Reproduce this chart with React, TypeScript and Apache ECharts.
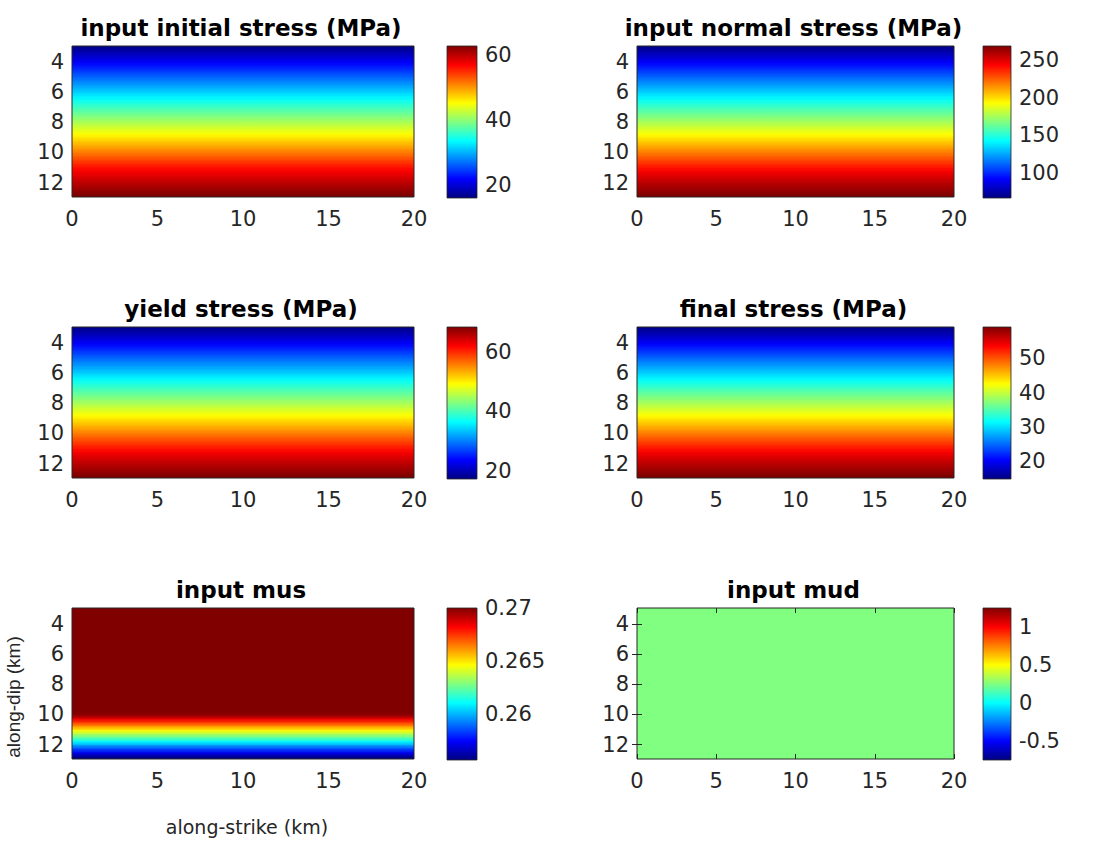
import React, { useEffect, useRef } from 'react';
import * as echarts from 'echarts';

// along-dip row centres (km)
const depthKm = [
  3.075, 3.325, 3.575, 3.825, 4.075, 4.325, 4.575, 4.825, 5.075, 5.325,
  5.575, 5.825, 6.075, 6.325, 6.575, 6.825, 7.075, 7.325, 7.575, 7.825,
  8.075, 8.325, 8.575, 8.825, 9.075, 9.325, 9.575, 9.825, 10.075, 10.325,
  10.575, 10.825, 11.075, 11.325, 11.575, 11.825, 12.075, 12.325, 12.575, 12.825,
];
const strikeRangeKm = [0, 20];
const depthAxisRange = [2.95, 12.95];
const xTicks = [0, 5, 10, 15, 20];
const yTicks = [4, 6, 8, 10, 12];

const initialStress = [
  16.6, 17.9, 19.1, 20.4, 21.6, 22.9, 24.1, 25.4, 26.6, 27.9,
  29.1, 30.4, 31.6, 32.9, 34.1, 35.4, 36.6, 37.9, 39.1, 40.4,
  41.6, 42.9, 44.1, 45.4, 46.6, 47.9, 49.1, 50.4, 51.6, 52.9,
  54.1, 55.4, 56.5, 57.5, 58.4, 59.3, 60.2, 61.0, 61.9, 62.8,
];
const normalStress = [
  69.0, 74.2, 79.4, 85.1, 90.7, 95.9, 101.6, 106.8, 112.4, 117.6,
  122.8, 128.5, 133.7, 139.3, 144.5, 149.7, 155.4, 160.6, 165.8, 171.4,
  176.6, 182.3, 187.5, 192.7, 198.3, 203.9, 209.2, 214.8, 220.0, 225.6,
  230.8, 236.1, 241.3, 246.0, 250.4, 254.3, 258.2, 261.6, 265.1, 269.0,
];
const yieldStress = [
  18.1, 19.4, 20.7, 22.1, 23.5, 24.8, 26.3, 27.6, 29.0, 30.3,
  31.6, 33.0, 34.3, 35.8, 37.1, 38.4, 39.8, 41.1, 42.4, 43.8,
  45.1, 46.6, 47.9, 49.2, 50.6, 52.0, 53.3, 54.8, 56.1, 57.5,
  58.8, 60.1, 61.4, 62.6, 63.7, 64.7, 65.7, 66.5, 67.4, 68.4,
];
const finalStress = [
  15.4, 16.5, 17.6, 18.9, 20.1, 21.3, 22.5, 23.6, 24.9, 26.0,
  27.2, 28.4, 29.5, 30.8, 31.9, 33.1, 34.3, 35.5, 36.6, 37.8,
  39.0, 40.2, 41.3, 42.5, 43.7, 44.9, 46.1, 47.3, 48.5, 49.7,
  50.8, 52.0, 53.1, 54.2, 55.1, 56.0, 56.8, 57.6, 58.4, 59.2,
];
const inputMus = [
  0.27, 0.27, 0.27, 0.27, 0.27, 0.27, 0.27, 0.27, 0.27, 0.27,
  0.27, 0.27, 0.27, 0.27, 0.27, 0.27, 0.27, 0.27, 0.27, 0.27,
  0.27, 0.27, 0.27, 0.27, 0.27, 0.27, 0.27, 0.27, 0.2698, 0.2685,
  0.2673, 0.2660, 0.2647, 0.2634, 0.2622, 0.2609, 0.2596, 0.2583, 0.2571, 0.2558,
];
const inputMud = [
  0.25, 0.25, 0.25, 0.25, 0.25, 0.25, 0.25, 0.25, 0.25, 0.25,
  0.25, 0.25, 0.25, 0.25, 0.25, 0.25, 0.25, 0.25, 0.25, 0.25,
  0.25, 0.25, 0.25, 0.25, 0.25, 0.25, 0.25, 0.25, 0.25, 0.25,
  0.25, 0.25, 0.25, 0.25, 0.25, 0.25, 0.25, 0.25, 0.25, 0.25,
];

const titles = [
  'input initial stress (MPa)',
  'input normal stress (MPa)',
  'yield stress (MPa)',
  'final stress (MPa)',
  'input mus',
  'input mud',
];
const panelValues = [initialStress, normalStress, yieldStress, finalStress, inputMus, inputMud];
const colorRanges = [
  [16, 62.8],
  [66, 269],
  [17.3, 68.4],
  [14.7, 59.2],
  [0.2556, 0.27],
  [-0.75, 1.25],
];
const colorTicks = [
  [20, 40, 60],
  [100, 150, 200, 250],
  [20, 40, 60],
  [20, 30, 40, 50],
  [0.26, 0.265, 0.27],
  [-0.5, 0, 0.5, 1],
];

const jet = ['#000080', '#0000ff', '#0080ff', '#00ffff', '#80ff80', '#ffff00', '#ff8000', '#ff0000', '#800000'];

// layout (pixels)
const colLeft = [72, 637];
const colWidth = [342, 317];
const rowTop = [46, 327, 608];
const plotHeight = 151;
const cbLeft = [447, 983];
const cbWidth = [30, 28];

const TICK_FONT = 'DejaVu Sans';
const TXT = '#262626';

export default function App() {
  const ref = useRef<HTMLDivElement>(null);
  useEffect(() => {
    if (!ref.current) return;
    const chart = echarts.init(ref.current, undefined, { renderer: 'svg' });
    const half = (depthKm[1] - depthKm[0]) / 2;

    const grids: any[] = [];
    const xAxes: any[] = [];
    const yAxes: any[] = [];
    const series: any[] = [];
    const visualMaps: any[] = [];
    const graphics: any[] = [];

    const boxes = titles.map((_, i) => {
      const c = i % 2;
      const r = Math.floor(i / 2);
      return { left: colLeft[c], top: rowTop[r], width: colWidth[c], height: plotHeight, c, r };
    });

    boxes.forEach((b) => {
      grids.push({
        left: b.left, top: b.top, width: b.width, height: b.height,
        show: true, borderColor: TXT, borderWidth: 1, backgroundColor: 'transparent', z: 5,
      });
    });
    boxes.forEach((b) => {
      grids.push({
        left: cbLeft[b.c], top: b.top, width: cbWidth[b.c], height: b.height + 1,
        show: true, borderColor: TXT, borderWidth: 0.8, backgroundColor: 'transparent', z: 5,
      });
    });

    const isMud = (i: number) => i === 5;

    boxes.forEach((b, i) => {
      xAxes.push({
        gridIndex: i, type: 'value', min: strikeRangeKm[0], max: strikeRangeKm[1], interval: 5,
        position: 'bottom',
        axisLine: { show: false },
        axisTick: { show: isMud(i), inside: true, length: 5, lineStyle: { color: TXT }, customValues: xTicks },
        axisLabel: { customValues: xTicks, color: TXT, fontFamily: TICK_FONT, fontSize: 21, margin: 11 },
        splitLine: { show: false },
        z: 6,
      });
      yAxes.push({
        gridIndex: i, type: 'value', min: depthAxisRange[0], max: depthAxisRange[1], inverse: true,
        position: 'left',
        axisLine: { show: false },
        axisTick: { show: isMud(i), inside: true, length: 5, lineStyle: { color: TXT }, customValues: yTicks },
        axisLabel: { customValues: yTicks, color: TXT, fontFamily: TICK_FONT, fontSize: 21, margin: 8 },
        splitLine: { show: false },
        z: 6,
      });
    });
    boxes.forEach((b, i) => {
      xAxes.push({
        gridIndex: 6 + i, type: 'value', min: 0, max: 1, show: false,
      });
      yAxes.push({
        gridIndex: 6 + i, type: 'value', min: colorRanges[i][0], max: colorRanges[i][1],
        position: 'right',
        axisLine: { show: false },
        axisTick: { show: false },
        axisLabel: { customValues: colorTicks[i], color: TXT, fontFamily: TICK_FONT, fontSize: 21, margin: 8 },
        splitLine: { show: false },
      });
    });
    // extra top/right ticks for the mud panel (ticks visible over uniform field)
    xAxes.push({
      gridIndex: 5, type: 'value', min: strikeRangeKm[0], max: strikeRangeKm[1], interval: 5, position: 'top',
      axisLine: { show: false }, axisLabel: { show: false }, splitLine: { show: false },
      axisTick: { show: true, inside: true, length: 5, lineStyle: { color: TXT }, customValues: xTicks }, z: 6,
    });
    yAxes.push({
      gridIndex: 5, type: 'value', min: depthAxisRange[0], max: depthAxisRange[1], inverse: true, position: 'right',
      axisLine: { show: false }, axisLabel: { show: false }, splitLine: { show: false },
      axisTick: { show: true, inside: true, length: 5, lineStyle: { color: TXT }, customValues: yTicks }, z: 6,
    });

    boxes.forEach((b, i) => {
      const vals = panelValues[i];
      const [mn, mx] = colorRanges[i];
      const colorOf = (v: number) => {
        const t = Math.max(0, Math.min(1, (v - mn) / (mx - mn)));
        return echarts.color.lerp(t, jet) as string;
      };
      series.push({
        type: 'custom',
        xAxisIndex: i, yAxisIndex: i,
        clip: true,
        encode: { x: [0, 3], y: 1 },
        // [x0, depth, value, x1, nextValue, nextDepth]
        data: depthKm.map((d, k) => [
          strikeRangeKm[0], d, vals[k], strikeRangeKm[1],
          k + 1 < vals.length ? vals[k + 1] : vals[k],
          k + 1 < depthKm.length ? depthKm[k + 1] : d + half,
        ]),
        renderItem: (params: any, api: any) => {
          const k = params.dataIndex;
          const x0 = api.value(0) as number;
          const x1 = api.value(3) as number;
          const y = api.value(1) as number;
          const yNext = api.value(5) as number;
          const c0 = api.visual('color');
          const c1 = colorOf(api.value(4) as number);
          const pa = api.coord([x0, y]);
          const pb = api.coord([x1, yNext]);
          const children: any[] = [];
          if (k === 0) {
            const pt = api.coord([x0, y - half]);
            children.push({
              type: 'rect',
              shape: { x: pt[0], y: pt[1] - 0.5, width: pb[0] - pt[0], height: pa[1] - pt[1] + 1.5 },
              style: { fill: c0 },
            });
          }
          children.push({
            type: 'rect',
            shape: { x: pa[0], y: pa[1] - 0.75, width: pb[0] - pa[0], height: pb[1] - pa[1] + 1.5 },
            style: { fill: new echarts.graphic.LinearGradient(0, 0, 0, 1, [{ offset: 0, color: c0 }, { offset: 1, color: c1 }]) },
          });
          return { type: 'group', children };
        },
      });
      visualMaps.push({
        type: 'continuous', show: false, seriesIndex: i, dimension: 2,
        min: mn, max: mx,
        inRange: { color: jet },
      });
    });
    const stops = jet.slice().reverse().map((c, k) => ({ offset: k / (jet.length - 1), color: c }));
    boxes.forEach((b, i) => {
      series.push({
        type: 'custom',
        xAxisIndex: 6 + i, yAxisIndex: 6 + i,
        encode: { x: [0, 2], y: [1, 3] },
        data: [[0, colorRanges[i][0], 1, colorRanges[i][1]]],
        renderItem: (params: any, api: any) => {
          const p0 = api.coord([api.value(0), api.value(3)]);
          const p1 = api.coord([api.value(2), api.value(1)]);
          return {
            type: 'rect',
            shape: { x: p0[0], y: p0[1], width: p1[0] - p0[0], height: p1[1] - p0[1] },
            style: { fill: new echarts.graphic.LinearGradient(0, 0, 0, 1, stops) },
          };
        },
      });
    });

    boxes.forEach((b, i) => {
      graphics.push({
        type: 'text',
        x: b.left + b.width / 2 - 2,
        y: b.top - 18,
        style: {
          text: titles[i], fontFamily: 'DejaVu Sans', fontWeight: 'bold', fontSize: 23,
          fill: '#000', align: 'center', verticalAlign: 'middle',
        },
      });
    });
    graphics.push({
      type: 'text', x: 247, y: 827,
      style: { text: 'along-strike (km)', fontFamily: 'DejaVu Sans', fontSize: 19, fill: TXT, align: 'center', verticalAlign: 'middle' },
    });
    graphics.push({
      type: 'text', x: 13, y: 697, rotation: Math.PI / 2,
      style: { text: 'along-dip (km)', fontFamily: 'Liberation Sans', fontSize: 19, fill: TXT, align: 'center', verticalAlign: 'middle' },
    });

    chart.setOption({
      animation: false,
      backgroundColor: '#ffffff',
      textStyle: { fontFamily: TICK_FONT },
      grid: grids,
      xAxis: xAxes,
      yAxis: yAxes,
      visualMap: visualMaps,
      series,
      graphic: graphics,
    });
    return () => chart.dispose();
  }, []);
  return (
    <div
      ref={ref}
      style={{ position: 'absolute', left: 0, top: 0, width: 1102, height: 844, background: '#fff' }}
    />
  );
}
